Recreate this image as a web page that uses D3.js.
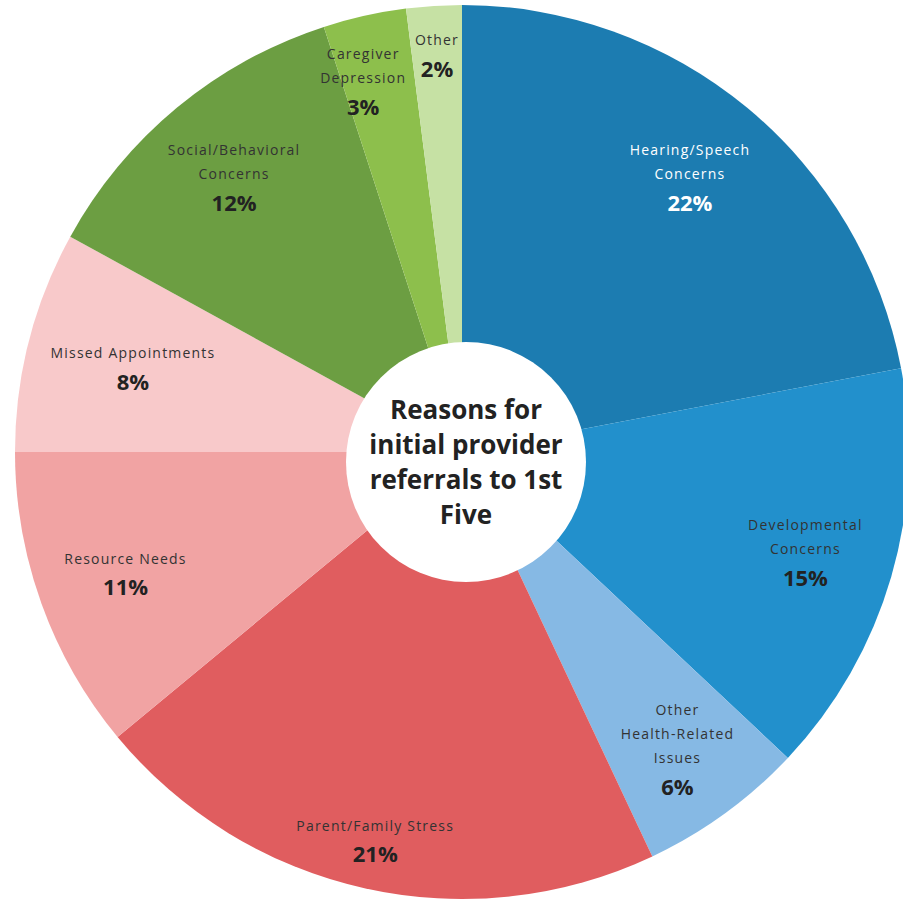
<!DOCTYPE html>
<html>
<head>
<meta charset="utf-8">
<script src="https://cdn.jsdelivr.net/npm/d3@7"></script>
<style>
  body { margin: 0; background: #fff; }
  svg { display: block; }
  .lbl { font-family: "Open Sans", sans-serif; font-size: 14px; letter-spacing: 1.2px; }
  .pct { font-family: "Open Sans", sans-serif; font-size: 22px; font-weight: bold; }
  .title { font-family: "Open Sans", sans-serif; font-size: 26px; font-weight: bold; fill: #222; }
</style>
</head>
<body>
<div id="chart"></div>
<script>
// data
var categories = ["Hearing/Speech Concerns", "Developmental Concerns", "Other Health-Related Issues",
                  "Parent/Family Stress", "Resource Needs", "Missed Appointments",
                  "Social/Behavioral Concerns", "Caregiver Depression", "Other"];
var labelLines = [["Hearing/Speech", "Concerns"], ["Developmental", "Concerns"], ["Other", "Health-Related", "Issues"],
                  ["Parent/Family Stress"], ["Resource Needs"], ["Missed Appointments"],
                  ["Social/Behavioral", "Concerns"], ["Caregiver", "Depression"], ["Other"]];
var percents = [22, 15, 6, 21, 11, 8, 12, 3, 2];
var colors = ["#1c7cb1", "#2290cc", "#86b9e4", "#e05d5f", "#f1a3a3", "#f8c9ca", "#6c9e42", "#8dbf4c", "#c6e1a4"];
var titleLines = ["Reasons for", "initial provider", "referrals to 1st", "Five"];

var width = 903, height = 901;
var cx = 462, cy = 452, R = 447;

var svg = d3.select("#chart").append("svg")
    .attr("width", width)
    .attr("height", height);

var g = svg.append("g").attr("transform", `translate(${cx}, ${cy})`);

var data = categories.map((c, i) => ({name: c, lines: labelLines[i], value: percents[i], color: colors[i]}));

var pie = d3.pie().value(d => d.value).sort(null);
var arc = d3.arc().innerRadius(0).outerRadius(R);
var arcs = pie(data);

g.selectAll("path.slice")
    .data(arcs)
    .enter()
    .append("path")
    .attr("class", "slice")
    .attr("d", arc)
    .attr("fill", d => d.data.color);

// label radius per slice (fraction of R)
var labelR = {"Parent/Family Stress": 0.89, "Caregiver Depression": 0.86, "Other": 0.89,
              "Missed Appointments": 0.76, "Other Health-Related Issues": 0.82};
var lineH = 24, pctGap = 29;

var labels = g.selectAll("g.label")
    .data(arcs)
    .enter()
    .append("g")
    .attr("class", "label")
    .attr("transform", d => {
        var r = (labelR[d.data.name] || 0.8) * R;
        var a = (d.startAngle + d.endAngle) / 2;
        // the two thin top slices sit a little further left in the original
        if (d.data.name === "Caregiver Depression") a -= 0.04;
        return `translate(${Math.sin(a) * r}, ${-Math.cos(a) * r})`;
    });

labels.each(function(d, i) {
    var sel = d3.select(this);
    var n = d.data.lines.length;
    var total = (n - 1) * lineH + pctGap;
    var y0 = -total / 2;
    var fill = i === 0 ? "#fff" : "#333";
    d.data.lines.forEach((t, k) => {
        sel.append("text")
            .attr("class", "lbl")
            .attr("text-anchor", "middle")
            .attr("dy", "0.35em")
            .attr("y", y0 + k * lineH)
            .attr("fill", fill)
            .text(t);
    });
    sel.append("text")
        .attr("class", "pct")
        .attr("text-anchor", "middle")
        .attr("dy", "0.35em")
        .attr("y", y0 + (n - 1) * lineH + pctGap)
        .attr("fill", i === 0 ? "#fff" : "#222")
        .text(d.data.value + "%");
});

// centre circle with title
var hole = svg.append("g").attr("transform", `translate(${cx + 4}, ${cy + 10})`);
hole.append("circle").attr("r", 120).attr("fill", "#fff");
hole.selectAll("text")
    .data(titleLines)
    .enter()
    .append("text")
    .attr("class", "title")
    .attr("text-anchor", "middle")
    .attr("dy", "0.35em")
    .attr("y", (d, i) => (i - 1.5) * 35)
    .text(d => d);
</script>
</body>
</html>
